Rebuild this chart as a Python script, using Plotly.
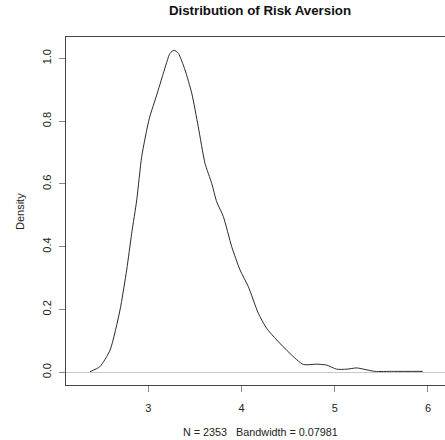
import plotly.graph_objects as go

# Density curve values
risk_x = [2.374, 2.48, 2.59, 2.696, 2.768, 2.822, 2.876, 2.929, 3.011, 3.09, 3.161, 3.233, 3.276,
          3.322, 3.394, 3.466, 3.536, 3.608, 3.68, 3.734, 3.805, 3.895, 3.984, 4.073, 4.18, 4.27,
          4.378, 4.52, 4.663, 4.807, 4.914, 5.02, 5.13, 5.236, 5.325, 5.43, 5.63, 5.944]
density_y = [0.002, 0.018, 0.071, 0.198, 0.326, 0.443, 0.549, 0.687, 0.809, 0.883, 0.952, 1.016, 1.026,
             1.016, 0.963, 0.889, 0.782, 0.666, 0.602, 0.543, 0.496, 0.400, 0.326, 0.273, 0.188, 0.140,
             0.103, 0.060, 0.025, 0.026, 0.023, 0.010, 0.010, 0.014, 0.009, 0.003, 0.003, 0.003]

x_ticks = [3, 4, 5, 6]
y_ticks = [0.0, 0.2, 0.4, 0.6, 0.8, 1.0]
y_tick_labels = ["0.0", "0.2", "0.4", "0.6", "0.8", "1.0"]

FONT = "Liberation Sans, Arial, sans-serif"

fig = go.Figure()
fig.add_trace(go.Scatter(x=risk_x, y=density_y, mode="lines",
                         line=dict(color="#2a2a2a", width=1, shape="spline", smoothing=0.6),
                         hoverinfo="skip", showlegend=False))

W, H = 445, 440
L, R, T, B = 66, 0, 37, 55

fig.update_layout(
    width=W, height=H,
    margin=dict(l=L, r=R, t=T, b=B),
    paper_bgcolor="white", plot_bgcolor="white",
    font=dict(family=FONT, color="#222222", size=11),
    title=dict(text="<b>Distribution of Risk Aversion</b>", font=dict(size=13.3, family=FONT, color="#111111"),
               x=260 / W, xref="container", xanchor="center",
               y=1 - 10 / H, yref="container", yanchor="middle"),
    xaxis=dict(range=[2.117, 6.183], tickvals=x_ticks, ticktext=[str(v) for v in x_ticks],
               showgrid=False, zeroline=False, showline=True, linecolor="#444444", linewidth=1,
               mirror=True, ticks="outside", ticklen=6, tickcolor="#888888", tickwidth=1,
               tickfont=dict(size=11, family=FONT, color="#222222"), ticklabelstandoff=7),
    yaxis=dict(range=[-0.0404, 1.068], tickvals=y_ticks, ticktext=y_tick_labels,
               showgrid=False, zeroline=True, zerolinecolor="#c8c8c8", zerolinewidth=1,
               showline=True, linecolor="#444444", linewidth=1, mirror=False,
               ticks="outside", ticklen=6, tickcolor="#888888", tickwidth=1, tickangle=-90,
               tickfont=dict(size=11, family=FONT, color="#222222"), ticklabelstandoff=4),
    annotations=[
        dict(text="N = 2353   Bandwidth = 0.07981", xref="paper", yref="paper",
             x=(260 - L) / (W - L - R), y=(H - B - 431.7) / (H - T - B),
             xanchor="center", yanchor="middle", showarrow=False,
             font=dict(size=10.8, family=FONT, color="#222222")),
        dict(text="Density", xref="paper", yref="paper",
             x=(20 - L) / (W - L - R), y=(H - B - 212) / (H - T - B),
             xanchor="center", yanchor="middle", showarrow=False, textangle=-90,
             font=dict(size=11, family=FONT, color="#222222")),
    ],
)

fig.write_html("out.html", config={"displayModeBar": False, "staticPlot": True},
               post_script="document.body.style.margin='0';document.body.style.overflow='hidden';")
